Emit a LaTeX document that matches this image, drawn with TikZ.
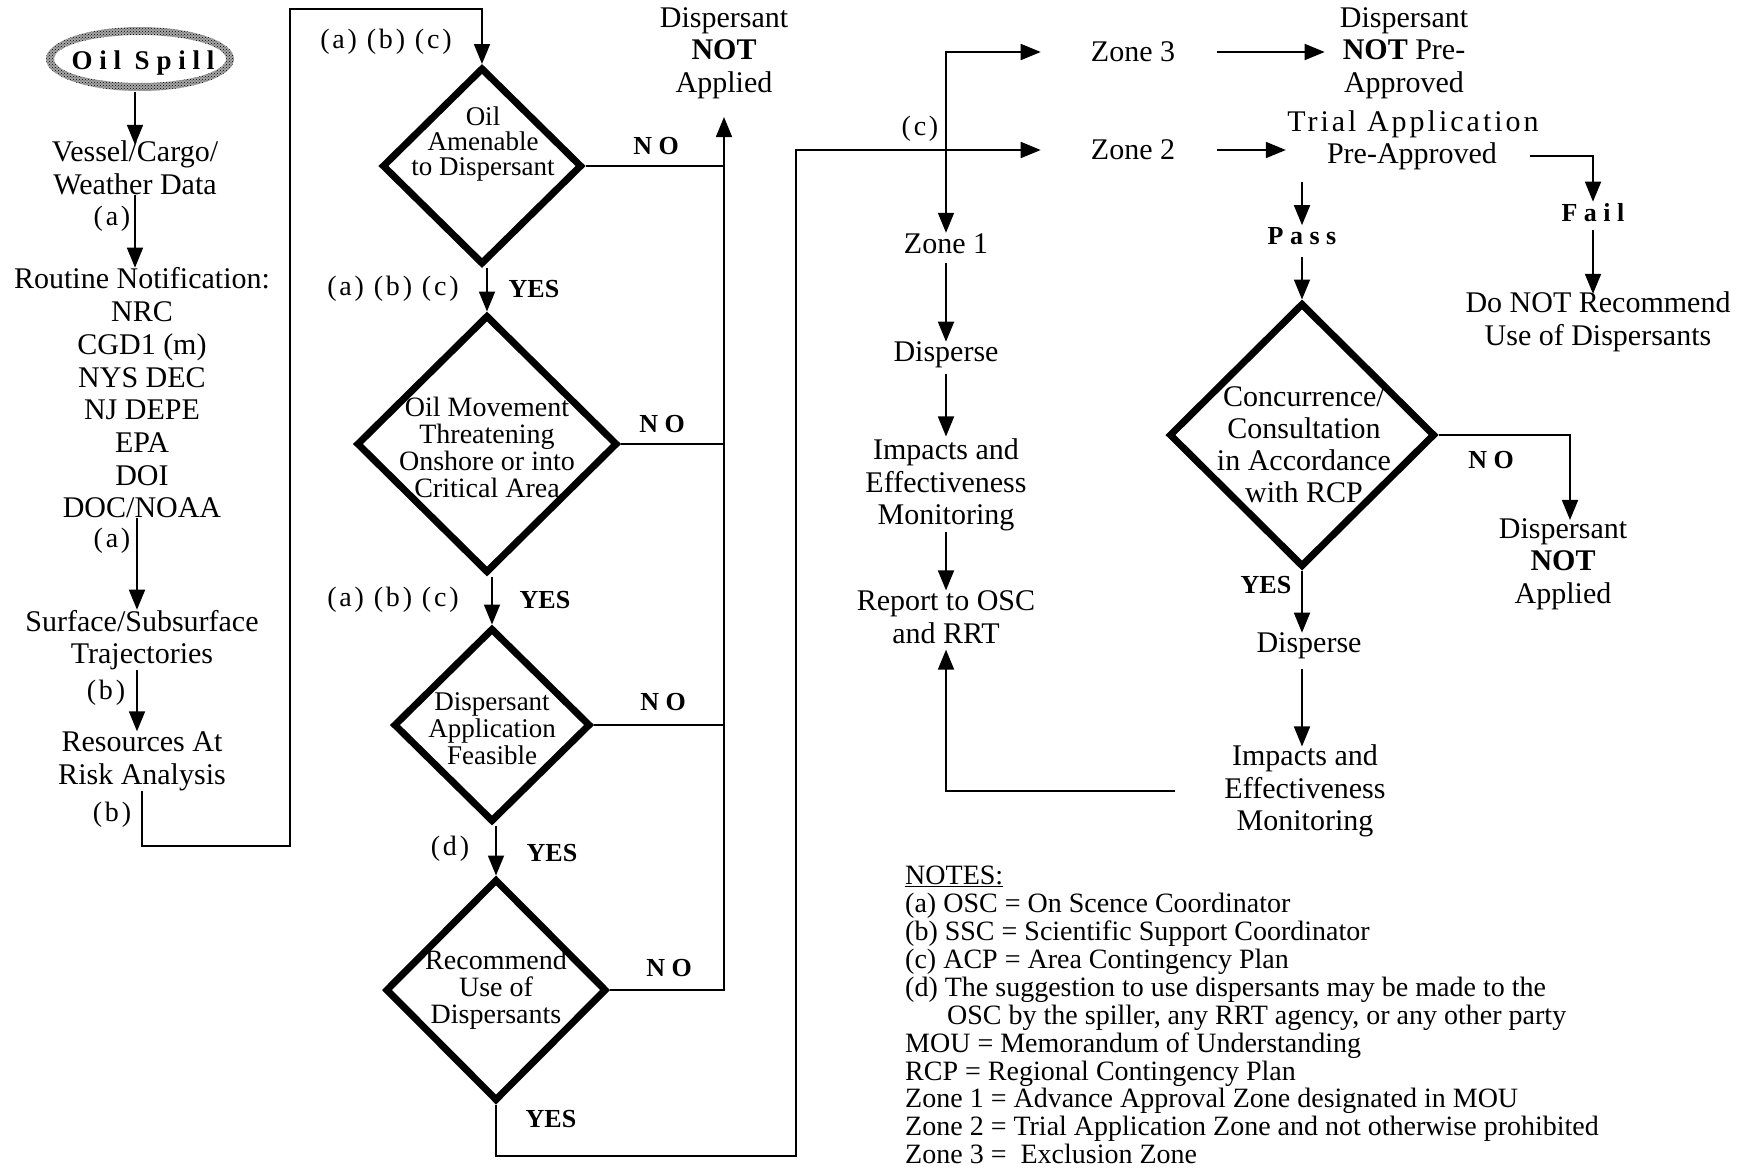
\documentclass[tikz,border=0pt]{standalone}
\usepackage{fontspec}
\setmainfont{Liberation Serif}
\newfontfamily\spc[LetterSpace=10]{Liberation Serif}
\newfontfamily\spcb[LetterSpace=25]{Liberation Serif}
\usetikzlibrary{arrows.meta,shapes.geometric,patterns}
\begin{document}
\begin{tikzpicture}[x=1pt,y=-1pt,
  txt/.style={align=center,inner sep=0pt,font=\fontsize{30}{32.7}\selectfont},
  dtxt/.style={align=center,inner sep=0pt,font=\fontsize{27}{25}\selectfont},
  lbl/.style={inner sep=0pt,font=\spc\fontsize{28}{30}\selectfont},
  yes/.style={inner sep=0pt,font=\bfseries\fontsize{26}{28}\selectfont},
  nolbl/.style={inner sep=0pt,font=\spcb\bfseries\fontsize{26}{28}\selectfont},
  dia/.style={draw,diamond,line width=7pt,inner sep=0pt,miter limit=10},
  ln/.style={line width=1.8pt},
  arr/.style={ln,-{Triangle[width=16pt,length=20pt]}},
]
\fill[white] (0,0) rectangle (1738,1170);
\useasboundingbox (0,0) rectangle (1738,1170);

% ---------- left column ----------
\coordinate (ring) at (140,59);
\fill[black!35,even odd rule]
  (ring) ellipse [x radius=94,y radius=32]
  (ring) ellipse [x radius=86,y radius=24];
\fill[pattern=crosshatch dots,pattern color=black,even odd rule]
  (ring) ellipse [x radius=94,y radius=32]
  (ring) ellipse [x radius=86,y radius=24];
\node[inner sep=0pt,font=\spcb\bfseries\fontsize{27}{29}\selectfont] (spill) at (143,63) {Oil Spill};
\node[txt] (ves) at (135,168) {Vessel/Cargo/\\Weather Data};
\node[txt] (rout) at (142,393) {Routine Notification:\\NRC\\CGD1 (m)\\NYS DEC\\NJ DEPE\\EPA\\DOI\\DOC/NOAA};
\node[txt] (surf) at (142,640) {Surface/Subsurface\\Trajectories};
\node[txt] (res) at (142,761) {Resources At\\Risk Analysis};
\node[lbl] (la1) at (112,219) {(a)};
\node[lbl] (la2) at (112,541) {(a)};
\node[lbl] (lb1) at (106,693) {(b)};
\node[lbl] (lb2) at (112,815) {(b)};

\draw[arr] (ves.north |- 0,92) -- ([yshift=-4]ves.north);
\draw[arr] (ves.south) -- (ves.south |- rout.north);
\draw[arr] (rout.south -| 137,0) -- (surf.north -| 137,0);
\draw[arr] (surf.south -| 137,0) -- (res.north -| 137,0);

% ---------- decision column ----------
\node[dia,minimum width=200,minimum height=197] (d1) at (482,166) {};
\node[dtxt] (t1) at (483,144) {Oil\\Amenable\\to Dispersant};
\node[dia,minimum width=261,minimum height=258] (d2) at (487,444) {};
\node[dtxt,font=\fontsize{28}{27}\selectfont] (t2) at (487,447) {Oil Movement\\Threatening\\Onshore or into\\Critical Area};
\node[dia,minimum width=197,minimum height=194] (d3) at (492,725) {};
\node[dtxt,font=\fontsize{27}{27}\selectfont] (t3) at (492,729) {Dispersant\\Application\\Feasible};
\node[dia,minimum width=221,minimum height=222] (d4) at (496,990) {};
\node[dtxt,font=\fontsize{28}{27}\selectfont] (t4) at (496,990) {Recommend\\Use of\\Dispersants};

\draw[arr] (res.south) |- (290,846) -- (290,9) -| (d1.north);
\node[lbl] (abc1) at (386,42) {(a) (b) (c)};
\draw[arr] (d2.north |- d1.south) -- (d2.north);
\node[lbl] (abc2) at (393,289) {(a) (b) (c)};
\node[yes] (y1) at (534,289) {YES};
\draw[arr] (d3.north |- d2.south) -- (d3.north);
\node[lbl] (abc3) at (393,600) {(a) (b) (c)};
\node[yes] (y2) at (545,600) {YES};
\draw[arr] (d4.north |- d3.south) -- (d4.north);
\node[lbl] (ld) at (450,849) {(d)};
\node[yes] (y3) at (552,853) {YES};

\node[txt] (notap1) at (724,53) {Dispersant\\\textbf{NOT}\\Applied};
\draw[ln] (d1.east) -- (d1.east -| notap1.south);
\draw[ln] (d2.east) -- (d2.east -| notap1.south);
\draw[ln] (d3.east) -- (d3.east -| notap1.south);
\draw[arr] (d4.east) -| ([yshift=-18]notap1.south);
\node[nolbl] (n1) at (656,146) {NO};
\node[nolbl] (n2) at (662,424) {NO};
\node[nolbl] (n3) at (663,702) {NO};
\node[nolbl] (n4) at (669,968) {NO};

% ---------- zones ----------
\node[txt] (z3) at (1133,52) {Zone 3};
\node[txt] (z2) at (1133,150) {Zone 2};
\node[txt] (z1) at (946,244) {Zone 1};
\draw[arr] (d4.south) |- (796,1156) |- ([xshift=-50]z2.west);
\node[yes] (y4) at (551,1119) {YES};
\node[lbl] (lc) at (920,129) {(c)};
\draw[{Triangle[width=16pt,length=20pt]}-{Triangle[width=16pt,length=20pt]},ln]
  ([xshift=-50]z3.west) -| ([yshift=1]z1.north);

\node[txt] (disp1) at (946,355) {Disperse};
\node[txt] (imp1) at (946,485) {Impacts and\\Effectiveness\\Monitoring};
\node[txt] (report) at (946,617) {Report to OSC\\and RRT};
\draw[arr] ([yshift=-9]z1.south) -- (disp1.north);
\draw[arr] ([yshift=-6]disp1.south) -- ([yshift=2]imp1.north);
\draw[arr] (imp1.south) -- (report.north);

% ---------- right side ----------
\node[txt] (notpre) at (1404,53) {Dispersant\\\textbf{NOT} Pre-\\Approved};
\draw[arr] ([xshift=42]z3.east) -- ([xshift=-15]notpre.west |- z3.east);
\node[inner sep=0pt,font=\spc\fontsize{30}{32}\selectfont] (trial1) at (1413,124) {Trial Application};
\node[txt] (trial2) at (1412,156) {Pre-Approved};
\draw[arr] ([xshift=42]z2.east) -- ([xshift=-41]trial2.west |- z2.east);
\node[nolbl] (fail) at (1593,213) {Fail};
\node[nolbl] (pass) at (1302,236) {Pass};
\node[txt] (donot) at (1598,322) {Do NOT Recommend\\Use of Dispersants};
\draw[arr] ([xshift=33]trial2.east) -| ([yshift=2]fail.north);
\draw[arr] ([yshift=-8]fail.south) -- ([yshift=-2]fail.south |- donot.north);
\draw[arr] ([yshift=-12]trial2.south -| pass.north) -- ([yshift=2]pass.north);

\node[dia,minimum width=266,minimum height=264] (d5) at (1302,435) {};
\node[txt,font=\fontsize{30}{32}\selectfont] (t5) at (1304,445) {Concurrence/\\Consultation\\in Accordance\\with RCP};
\draw[arr] ([yshift=-12]pass.south) -- (d5.north);
\node[txt] (notap2) at (1563,564) {Dispersant\\\textbf{NOT}\\Applied};
\draw[arr] (d5.east) -| ([xshift=7,yshift=-2]notap2.north);
\node[nolbl] (n5) at (1491,460) {NO};
\node[txt] (disp2) at (1309,646) {Disperse};
\draw[arr] (d5.south) -- (d5.south |- disp2.north);
\node[yes] (y5) at (1266,585) {YES};
\node[txt] (imp2) at (1305,791) {Impacts and\\Effectiveness\\Monitoring};
\draw[arr] ([yshift=-10]disp2.south -| d5.south) -- ([yshift=-2]imp2.north -| d5.south);
\draw[arr] ([xshift=-49]imp2.west) -| ([yshift=-6]report.south);

% ---------- notes ----------
\node[anchor=north west,align=left,inner sep=0pt,font=\fontsize{28}{27.9}\selectfont] (notes) at (905,866)
 {\underline{NOTES:}\\
  (a) OSC = On Scence Coordinator\\
  (b) SSC = Scientific Support Coordinator\\
  (c) ACP = Area Contingency Plan\\
  (d) The suggestion to use dispersants may be made to the\\
  \hspace*{42pt}OSC by the spiller, any RRT agency, or any other party\\
  MOU = Memorandum of Understanding\\
  RCP = Regional Contingency Plan\\
  Zone 1 = Advance Approval Zone designated in MOU\\
  Zone 2 = Trial Application Zone and not otherwise prohibited\\
  Zone 3 =\ \ Exclusion Zone};
\end{tikzpicture}
\end{document}
